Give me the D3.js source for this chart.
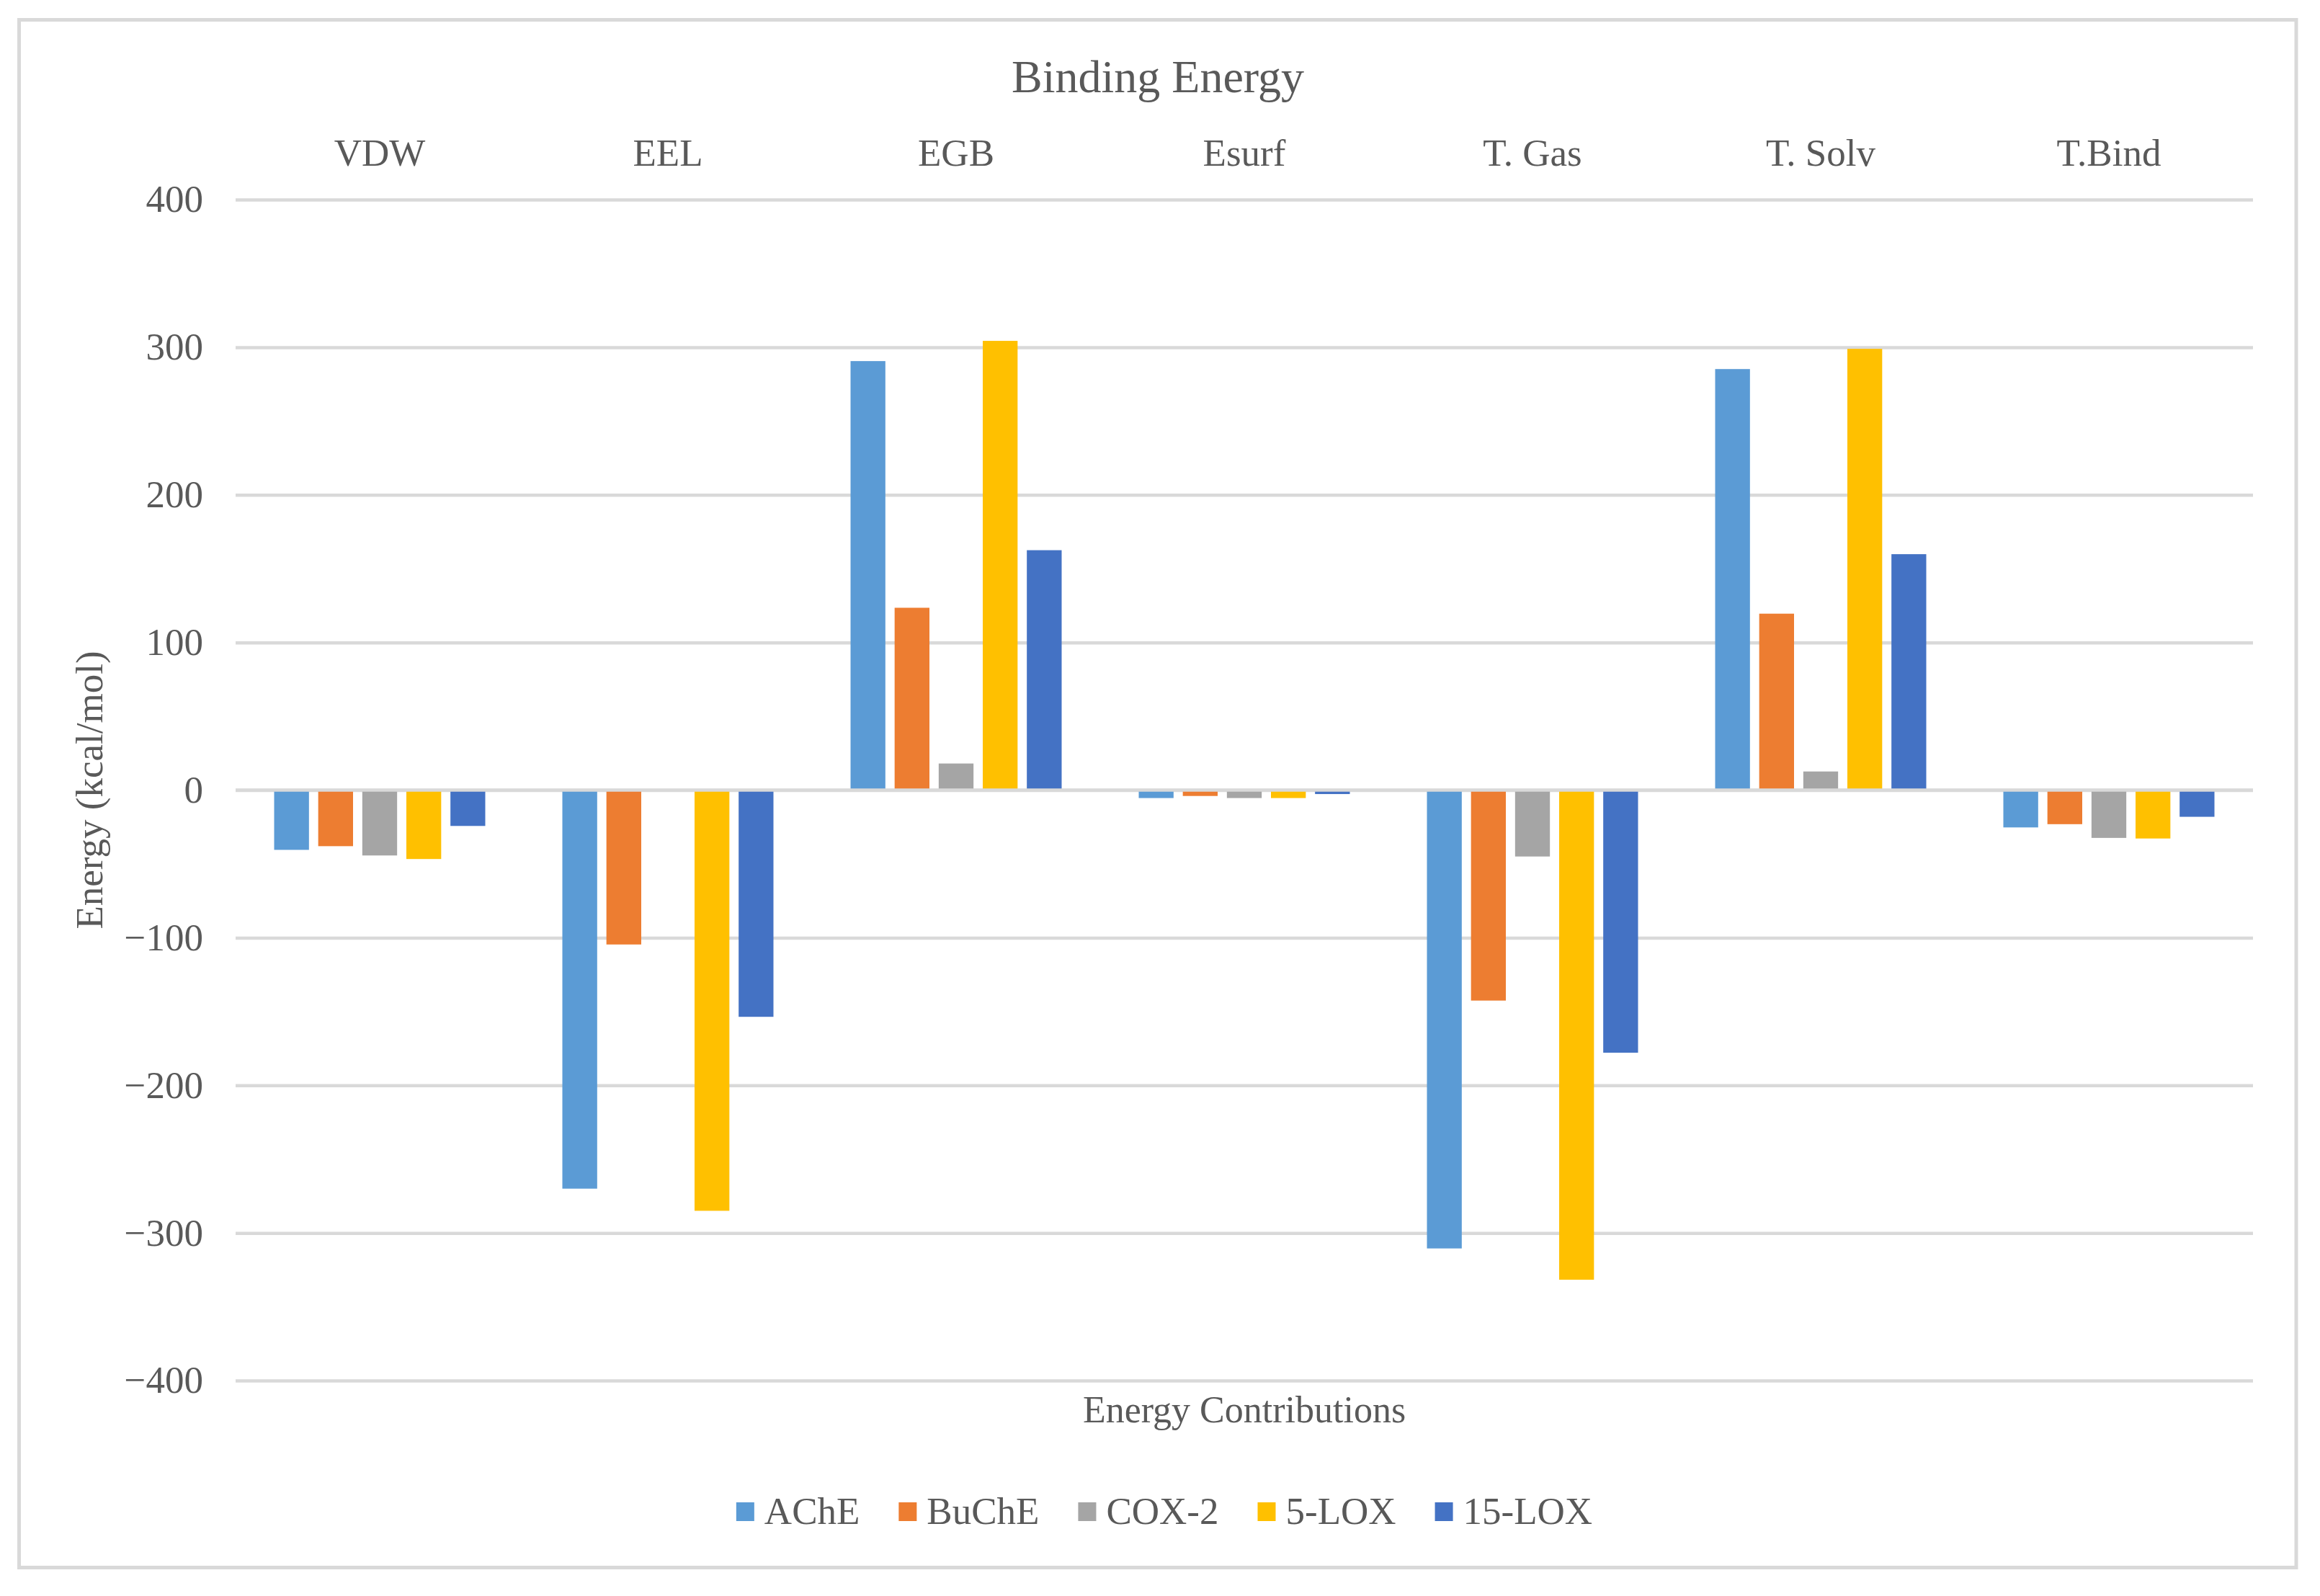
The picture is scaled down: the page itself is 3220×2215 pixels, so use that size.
<!DOCTYPE html>
<html>
<head>
<meta charset="utf-8">
<script src="https://cdnjs.cloudflare.com/ajax/libs/d3/7.8.5/d3.min.js"></script>
<style>
  body { margin: 0; background: #ffffff; }
  text { font-family: "Liberation Serif", "Times New Roman", serif; fill: #595959; }
</style>
</head>
<body>
<div id="chart"></div>
<script>
// Data
var categories = ["VDW", "EEL", "EGB", "Esurf", "T. Gas", "T. Solv", "T.Bind"];
var seriesNames = ["AChE", "BuChE", "COX-2", "5-LOX", "15-LOX"];
var acheValues = [-40.5, -270, 290.6, -5.4, -310.5, 285.2, -25.3];
var bucheValues = [-38, -104.6, 123.5, -4, -142.6, 119.5, -23.1];
var cox2Values = [-44.3, -0.7, 18, -5.4, -45, 12.6, -32.4];
var lox5Values = [-46.7, -285, 304.3, -5.4, -331.7, 298.9, -32.8];
var lox15Values = [-24.3, -153.6, 162.5, -2.7, -177.9, 159.8, -18.1];
var yTicks = [-400, -300, -200, -100, 0, 100, 200, 300, 400];

var seriesValues = [acheValues, bucheValues, cox2Values, lox5Values, lox15Values];

var svgWidth = 3220;
var svgHeight = 2215;

var margin = {
  top: 277,
  right: 93,
  bottom: 299,
  left: 327
};

var width = svgWidth - margin.left - margin.right;
var height = svgHeight - margin.top - margin.bottom;

var svg = d3.select("#chart")
  .append("svg")
  .attr("width", svgWidth)
  .attr("height", svgHeight);

// outer chart border
svg.append("rect")
  .attr("x", 26.5)
  .attr("y", 27.5)
  .attr("width", 3160.5)
  .attr("height", 2148)
  .attr("fill", "#ffffff")
  .attr("stroke", "#d9d9d9")
  .attr("stroke-width", 5);

var chartGroup = svg.append("g")
  .attr("transform", `translate(${margin.left}, ${margin.top})`);

// Step 1: scales
var x0 = d3.scaleBand()
  .domain(categories)
  .range([0, width])
  .paddingInner(0.2675)
  .paddingOuter(0.13375);

var x1 = d3.scaleBand()
  .domain(seriesNames)
  .range([0, x0.bandwidth()])
  .paddingInner(0.21);

var yLinearScale = d3.scaleLinear()
  .domain([-400, 400])
  .range([height, 0]);

var color = d3.scaleOrdinal()
  .domain(seriesNames)
  .range(["#5b9bd5", "#ed7d31", "#a5a5a5", "#ffc000", "#4472c4"]);

// Step 2: y axis with gridlines
var leftAxis = d3.axisLeft(yLinearScale)
  .tickValues(yTicks)
  .tickSize(-width)
  .tickPadding(45);

var yAxisGroup = chartGroup.append("g")
  .call(leftAxis);
yAxisGroup.select(".domain").remove();
yAxisGroup.selectAll("line")
  .attr("stroke", "#d9d9d9")
  .attr("stroke-width", 4.5);
yAxisGroup.selectAll("text")
  .style("font-size", "53px")
  .style("font-family", "Liberation Serif, serif")
  .attr("fill", "#595959");

// category labels along the top
var topAxis = d3.axisTop(x0)
  .tickSize(0)
  .tickPadding(47);

var xAxisGroup = chartGroup.append("g")
  .call(topAxis);
xAxisGroup.select(".domain").remove();
xAxisGroup.selectAll("text")
  .style("font-size", "53px")
  .style("font-family", "Liberation Serif, serif")
  .attr("fill", "#595959");

// Step 3: bars
var barData = [];
categories.forEach(function(cat, i) {
  seriesNames.forEach(function(name, j) {
    barData.push({ category: cat, series: name, value: seriesValues[j][i] });
  });
});

chartGroup.selectAll(".bar")
  .data(barData)
  .enter()
  .append("rect")
  .attr("class", "bar")
  .attr("x", d => x0(d.category) + x1(d.series))
  .attr("width", x1.bandwidth())
  .attr("y", d => yLinearScale(Math.max(0, d.value)))
  .attr("height", d => Math.abs(yLinearScale(d.value) - yLinearScale(0)))
  .attr("fill", d => color(d.series));

// zero line drawn over the bars
chartGroup.append("line")
  .attr("x1", 0)
  .attr("x2", width)
  .attr("y1", yLinearScale(0))
  .attr("y2", yLinearScale(0))
  .attr("stroke", "#d9d9d9")
  .attr("stroke-width", 4.5);

// Step 4: titles
svg.append("text")
  .attr("x", 1607)
  .attr("y", 128)
  .attr("text-anchor", "middle")
  .style("font-size", "64px")
  .text("Binding Energy");

svg.append("text")
  .attr("x", margin.left + width / 2)
  .attr("y", 1974)
  .attr("text-anchor", "middle")
  .style("font-size", "52px")
  .text("Energy Contributions");

svg.append("text")
  .attr("transform", "rotate(-90)")
  .attr("x", -(margin.top + yLinearScale(0)))
  .attr("y", 142)
  .attr("text-anchor", "middle")
  .style("font-size", "53px")
  .text("Energy (kcal/mol)");

// Step 5: legend
var legend = svg.append("g");
var legendX = 0;
seriesNames.forEach(function(name) {
  var item = legend.append("g")
    .attr("transform", `translate(${legendX}, 0)`);
  item.append("rect")
    .attr("x", 0)
    .attr("y", -30)
    .attr("width", 25)
    .attr("height", 26)
    .attr("fill", color(name));
  var label = item.append("text")
    .attr("x", 39)
    .attr("y", 0)
    .style("font-size", "53px")
    .text(name);
  legendX += 39 + label.node().getComputedTextLength() + 54;
});
var legendWidth = legendX - 54;
legend.attr("transform", `translate(${1616 - legendWidth / 2}, 2115)`);
</script>
</body>
</html>
